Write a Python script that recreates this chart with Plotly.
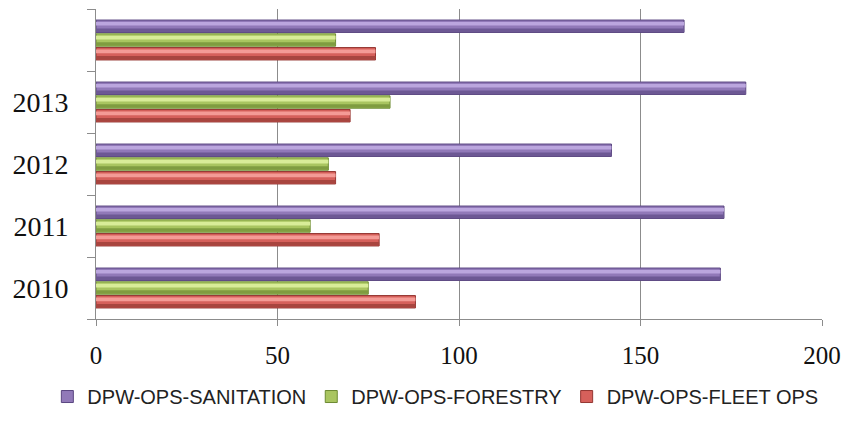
import plotly.graph_objects as go

# Categories (bottom to top); the top group has no label
categories = ["2010", "2011", "2012", "2013", "2014"]
category_labels = ["2010", "2011", "2012", "2013", ""]

sanitation = [172, 173, 142, 179, 162]
forestry = [75, 59, 64, 81, 66]
fleet_ops = [88, 78, 66, 70, 77]

BAR_W = 0.2
# name, values, offset within the category, base / light / dark / edge colours
series = [
    ("DPW-OPS-SANITATION", sanitation, 0.122, "#9179b8", "#bba6de", "#6d5894", "#5a4680"),
    ("DPW-OPS-FORESTRY", forestry, -0.100, "#a9c560", "#d8ec98", "#7f9c40", "#6c8a32"),
    ("DPW-OPS-FLEET OPS", fleet_ops, -0.322, "#d6605b", "#f49b96", "#a8453f", "#943632"),
]

fig = go.Figure()
for name, vals, off, base, light, dark, edge in series:
    # body of the bar
    fig.add_trace(go.Bar(
        y=categories, x=vals, name=name, orientation="h",
        width=BAR_W, offset=off,
        marker=dict(color=base, line=dict(color=edge, width=1)),
        legendgroup=name,
    ))
    # darker lower band for the rounded look
    fig.add_trace(go.Bar(
        y=categories, x=vals, orientation="h",
        width=BAR_W * 0.28, offset=off + BAR_W * 0.04,
        marker=dict(color=dark, line=dict(width=0)),
        showlegend=False, hoverinfo="skip", legendgroup=name,
    ))
    # light highlight band near the top
    fig.add_trace(go.Bar(
        y=categories, x=vals, orientation="h",
        width=BAR_W * 0.3, offset=off + BAR_W * 0.55,
        marker=dict(color=light, line=dict(width=0)),
        showlegend=False, hoverinfo="skip", legendgroup=name,
    ))

fig.update_layout(
    width=850, height=425,
    margin=dict(l=96, r=24, t=9, b=100),
    paper_bgcolor="white", plot_bgcolor="white",
    barmode="overlay",
    showlegend=True,
    legend=dict(
        orientation="h", traceorder="normal",
        x=-0.067, xanchor="left", y=-0.313, yanchor="bottom",
        font=dict(family="Liberation Sans, Arial, sans-serif", size=20, color="#222"),
        itemwidth=30, tracegroupgap=0,
    ),
    xaxis=dict(
        range=[0, 200], tickvals=[0, 50, 100, 150, 200],
        showgrid=True, gridcolor="#8c8c8c", gridwidth=1,
        showline=True, linecolor="#8c8c8c", linewidth=1,
        ticks="outside", ticklen=6, tickcolor="#8c8c8c",
        ticklabelstandoff=8,
        tickfont=dict(family="Liberation Serif, serif", size=25, color="#111"),
        zeroline=False,
    ),
    yaxis=dict(
        type="category", categoryorder="array", categoryarray=categories,
        tickvals=categories, ticktext=category_labels,
        tickson="boundaries", ticks="outside", ticklen=8, tickcolor="#8c8c8c",
        showline=True, linecolor="#8c8c8c", linewidth=1,
        showgrid=False,
        ticklabelstandoff=21,
        tickfont=dict(family="Liberation Serif, serif", size=28, color="#111"),
    ),
)

fig.write_html("out.html")
